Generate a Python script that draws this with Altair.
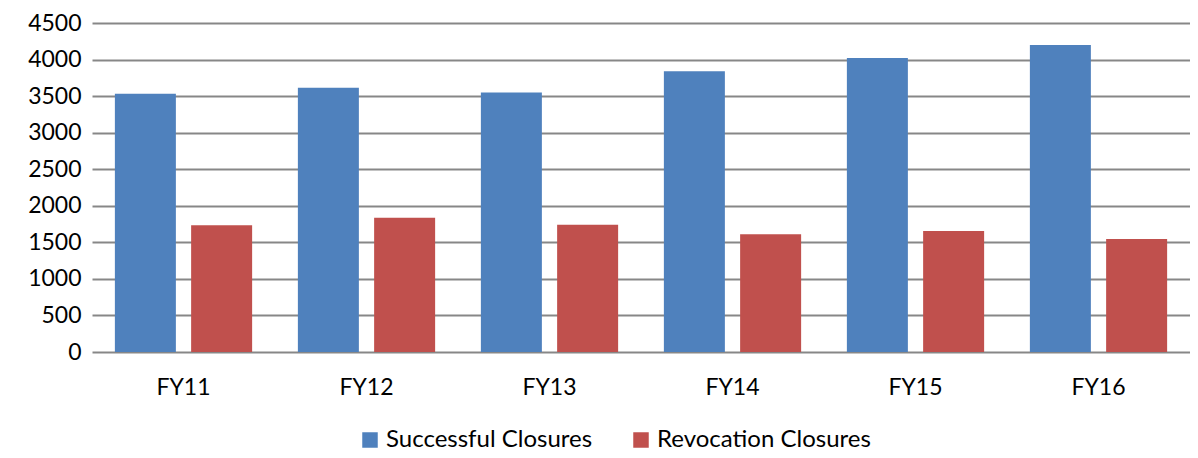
import altair as alt
import pandas as pd

years = ["FY11", "FY12", "FY13", "FY14", "FY15", "FY16"]
successful = [3534, 3615, 3548, 3841, 4021, 4198]
revocation = [1733, 1837, 1742, 1611, 1656, 1544]
series = ["Successful Closures", "Revocation Closures"]
colors = ["#4F81BD", "#C0504D"]

rows = []
for i, y in enumerate(years):
    rows.append({"year": y, "series": series[0], "value": successful[i]})
    rows.append({"year": y, "series": series[1], "value": revocation[i]})
df = pd.DataFrame(rows)

FONT = "Lato"
FS = 23

chart = alt.Chart(df).mark_bar().encode(
    x=alt.X("year:N", sort=years, title=None,
            scale=alt.Scale(paddingInner=0.25, paddingOuter=0.125),
            axis=alt.Axis(labelAngle=0, labelFontSize=FS, labelFont=FONT, labelColor="#000000",
                          labelPadding=24, ticks=False, domain=False, grid=False)),
    xOffset=alt.XOffset("series:N", sort=series,
                        scale=alt.Scale(paddingInner=0.2, paddingOuter=0)),
    y=alt.Y("value:Q", title=None,
            scale=alt.Scale(domain=[0, 4500], nice=False),
            axis=alt.Axis(values=list(range(0, 4501, 500)), format="d",
                          labelFontSize=FS, labelFont=FONT,
                          labelColor="#000000", labelPadding=11, ticks=False, domain=False,
                          grid=True, gridColor="#878787", gridWidth=2)),
    color=alt.Color("series:N", sort=series,
                    scale=alt.Scale(domain=series, range=colors),
                    legend=alt.Legend(title=None, orient="none", direction="horizontal",
                                      legendX=266, legendY=405,
                                      symbolType="square", symbolSize=240,
                                      symbolStrokeWidth=0, labelLimit=0,
                                      labelFontSize=24, labelFont=FONT, labelColor="#000000",
                                      columnPadding=36, labelOffset=4)),
).properties(
    width=1098, height=329,
    padding={"left": 84, "top": 15, "right": 0, "bottom": 100},
    autosize=alt.AutoSizeParams(type="none"),
).configure_view(stroke=None)

chart.save("out.html", embed_options={"renderer": "svg", "actions": False})
